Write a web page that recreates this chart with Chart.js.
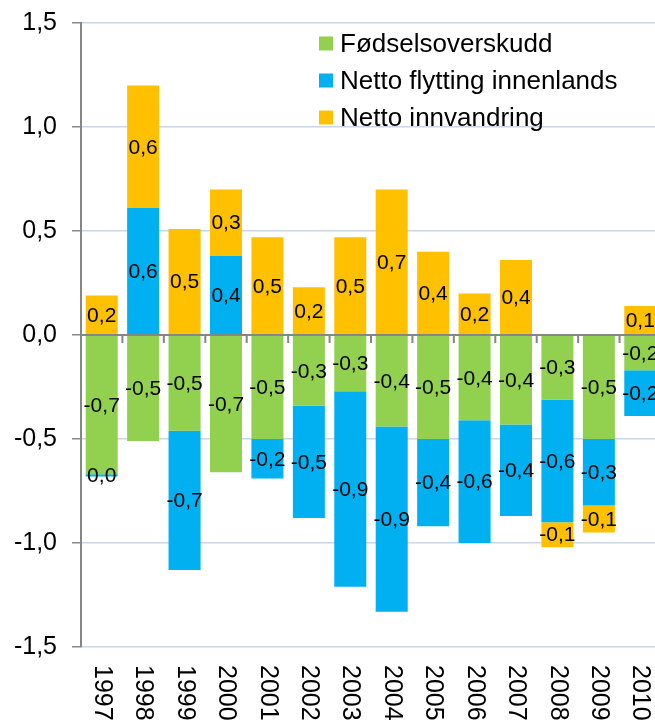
<!DOCTYPE html>
<html>
<head>
<meta charset="utf-8">
<script src="https://cdn.jsdelivr.net/npm/chart.js@4.4.1/dist/chart.umd.min.js"></script>
<style>
    body { margin: 0; background: #fff; overflow: hidden; }
    #wrap { width: 655px; height: 722px; overflow: hidden; }
</style>
</head>
<body>
<div id="wrap"><canvas id="grafico" width="661" height="722"></canvas></div>
<script>
var aar = ['1997', '1998', '1999', '2000', '2001', '2002', '2003', '2004', '2005', '2006', '2007', '2008', '2009', '2010'];
var fodselsoverskudd = [-0.67, -0.51, -0.46, -0.66, -0.50, -0.34, -0.27, -0.44, -0.50, -0.41, -0.43, -0.31, -0.50, -0.17];
var flytting = [-0.01, 0.61, -0.67, 0.38, -0.19, -0.54, -0.94, -0.89, -0.42, -0.59, -0.44, -0.59, -0.32, -0.22];
var innvandring = [0.19, 0.59, 0.51, 0.32, 0.47, 0.23, 0.47, 0.70, 0.40, 0.20, 0.36, -0.12, -0.13, 0.14];
var yTicks = [-1.5, -1.0, -0.5, 0.0, 0.5, 1.0, 1.5];

var font = '"Liberation Sans", Arial, sans-serif';
var grå = '#868686';

function komma(v) {
    var r = Math.round(v * 10) / 10;
    if (r === 0) r = 0;
    return r.toFixed(1).replace('.', ',');
}

// etiketter, nullinje, aarstall og forklaring
var tegn = {
    id: 'tegn',
    afterDatasetsDraw: function (chart) {
        var ctx = chart.ctx;
        var x = chart.scales.x, y = chart.scales.y;
        var y0 = y.getPixelForValue(0);
        ctx.save();
        ctx.strokeStyle = grå;
        ctx.lineWidth = 2;
        ctx.beginPath();
        ctx.moveTo(chart.chartArea.left, y0);
        ctx.lineTo(chart.chartArea.right, y0);
        for (var i = 0; i < aar.length; i++) {
            var xb = x.getPixelForValue(i) + (x.getPixelForValue(1) - x.getPixelForValue(0)) / 2;
            ctx.moveTo(xb, y0);
            ctx.lineTo(xb, y0 + 8);
        }
        ctx.stroke();

        ctx.fillStyle = '#000';
        ctx.font = '21px ' + font;
        ctx.textAlign = 'center';
        ctx.textBaseline = 'middle';
        chart.data.datasets.forEach(function (ds, d) {
            chart.getDatasetMeta(d).data.forEach(function (el, i) {
                ctx.fillText(komma(ds.data[i]), el.x, (el.y + el.base) / 2 + 1);
            });
        });
        ctx.restore();
    },
    afterDraw: function (chart) {
        var ctx = chart.ctx;
        var x = chart.scales.x, y = chart.scales.y;
        ctx.save();
        ctx.fillStyle = '#000';
        ctx.font = '25px ' + font;
        ctx.textAlign = 'left';
        ctx.textBaseline = 'middle';
        aar.forEach(function (a, i) {
            ctx.save();
            ctx.translate(x.getPixelForValue(i), y.bottom + 18);
            ctx.rotate(Math.PI / 2);
            ctx.fillText(a, 0, 0);
            ctx.restore();
        });

        ctx.font = '26px ' + font;
        chart.data.datasets.forEach(function (ds, d) {
            var ly = 43.5 + d * 37;
            ctx.fillStyle = ds.backgroundColor;
            ctx.fillRect(319, ly - 7, 14, 14);
            ctx.fillStyle = '#000';
            ctx.fillText(ds.label, 340, ly + 1);
        });
        ctx.restore();
    }
};

new Chart(document.getElementById('grafico'), {
    type: 'bar',
    data: {
        labels: aar,
        datasets: [
            { label: 'Fødselsoverskudd', backgroundColor: '#92D050', data: fodselsoverskudd },
            { label: 'Netto flytting innenlands', backgroundColor: '#00B0F0', data: flytting },
            { label: 'Netto innvandring', backgroundColor: '#FFC000', data: innvandring }
        ]
    },
    plugins: [tegn],
    options: {
        responsive: false,
        animation: false,
        layout: { padding: { top: 23, left: 0, right: 0, bottom: 0 } },
        datasets: { bar: { categoryPercentage: 1, barPercentage: 0.773, borderWidth: 0 } },
        plugins: {
            legend: { display: false },
            tooltip: { enabled: false }
        },
        scales: {
            x: {
                stacked: true,
                grid: { display: false, drawTicks: false },
                border: { display: false },
                ticks: { display: false },
                afterFit: function (s) { s.height = 75; }
            },
            y: {
                stacked: true,
                min: -1.5,
                max: 1.5,
                afterBuildTicks: function (s) {
                    s.ticks = yTicks.map(function (v) { return { value: v }; });
                },
                afterFit: function (s) {
                    s.width = 81;
                    s.paddingTop = 0;
                    s.paddingBottom = 0;
                },
                grid: {
                    color: function (c) { return c.tick && c.tick.value === 0 ? grå : '#C6D6EC'; },
                    tickColor: grå,
                    tickLength: 9,
                    lineWidth: 1.5
                },
                border: { color: grå, width: 2 },
                ticks: {
                    padding: 15,
                    color: '#000',
                    font: { family: font, size: 25 },
                    callback: function (v) { return komma(v); }
                }
            }
        }
    }
});
</script>
</body>
</html>
